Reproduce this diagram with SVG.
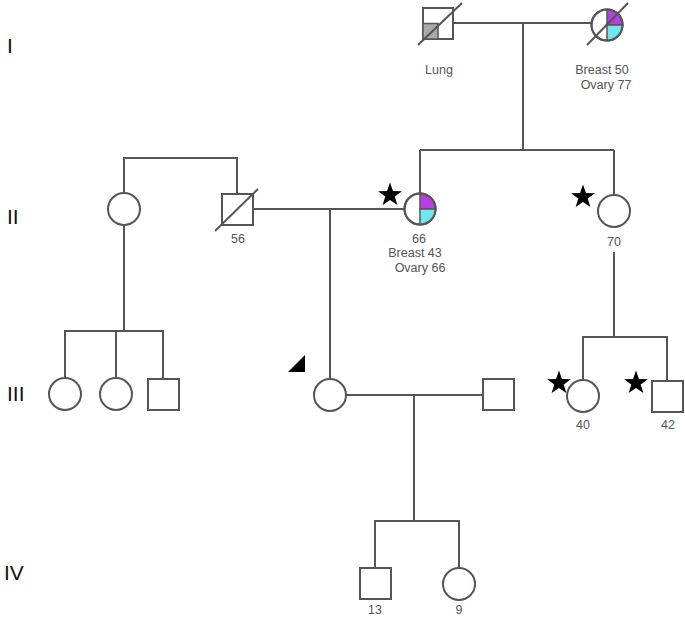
<svg xmlns="http://www.w3.org/2000/svg" width="685" height="617" viewBox="0 0 685 617">
<style>
.ln{stroke:#555;stroke-width:2;fill:none}
.sh{stroke:#555;stroke-width:2;fill:#fff}
.lbl{font-family:"Liberation Sans",Arial,sans-serif;font-size:12.5px;fill:#555;text-anchor:middle}
.gen{font-family:"Liberation Sans",Arial,sans-serif;font-size:21px;fill:#111}
.pur{fill:#b83ce8;stroke:#555;stroke-width:1.5}
.cya{fill:#72e6f0;stroke:#555;stroke-width:1.5}
</style>
<defs>
<path id="star" d="M0,-12.5 L2.94,-4.04 L11.89,-3.86 L4.75,1.54 L7.35,10.11 L0,5 L-7.35,10.11 L-4.75,1.54 L-11.89,-3.86 L-2.94,-4.04 Z" fill="#000"/>
</defs>
<rect width="685" height="617" fill="#fff"/>
<g id="generations">
<text class="gen" x="7" y="53">I</text>
<text class="gen" x="7" y="224">II</text>
<text class="gen" x="7" y="401">III</text>
<text class="gen" x="4" y="580">IV</text>
</g>
<g id="connectors">
<path class="ln" d="M453,23 H592"/>
<path class="ln" d="M523,23 V150"/>
<path class="ln" d="M420,150 H614"/>
<path class="ln" d="M420,150 V194"/>
<path class="ln" d="M614,150 V196"/>
<path class="ln" d="M124,193 V158 H237 V193"/>
<path class="ln" d="M253,209 H405"/>
<path class="ln" d="M330,209 V379"/>
<path class="ln" d="M124,225 V331"/>
<path class="ln" d="M65,378 V331 H163 V379"/>
<path class="ln" d="M116,331 V378"/>
<path class="ln" d="M614,252 V337"/>
<path class="ln" d="M583,380 V337 H667 V381"/>
<path class="ln" d="M346,395 H483"/>
<path class="ln" d="M414,395 V521"/>
<path class="ln" d="M375,568 V521 H459 V568"/>
</g>
<g id="I1">
<rect class="sh" x="423" y="8" width="30" height="31"/>
<rect x="423" y="23.5" width="15" height="15.5" fill="#aaa" stroke="#555" stroke-width="1.5"/>
<path class="ln" d="M418,45 L462,3" stroke-width="1.5"/>
<text class="lbl" x="439" y="74">Lung</text>
</g>
<g id="I2">
<circle class="sh" cx="607" cy="25" r="15.5"/>
<path class="pur" d="M607,25 L607,9.5 A15.5,15.5 0 0 1 622.5,25 Z"/>
<path class="cya" d="M607,25 L622.5,25 A15.5,15.5 0 0 1 607,40.5 Z"/>
<circle class="ln" cx="607" cy="25" r="15.5"/>
<path class="ln" d="M587,45 L628,3" stroke-width="1.5"/>
<text class="lbl" x="602" y="74">Breast 50</text>
<text class="lbl" x="606" y="89">Ovary 77</text>
</g>
<g id="II1">
<circle class="sh" cx="124" cy="209" r="16"/>
</g>
<g id="II2">
<rect class="sh" x="222" y="194" width="31" height="31"/>
<path class="ln" d="M215,231 L258,189" stroke-width="1.5"/>
<text class="lbl" x="238" y="243">56</text>
</g>
<g id="II3">
<circle class="sh" cx="420" cy="209" r="15.5"/>
<path class="pur" d="M420,209 L420,193.5 A15.5,15.5 0 0 1 435.5,209 Z"/>
<path class="cya" d="M420,209 L435.5,209 A15.5,15.5 0 0 1 420,224.5 Z"/>
<circle class="ln" cx="420" cy="209" r="15.5"/>
<use href="#star" x="390" y="195"/>
<text class="lbl" x="419" y="243">66</text>
<text class="lbl" x="415" y="257">Breast 43</text>
<text class="lbl" x="420" y="272">Ovary 66</text>
</g>
<g id="II4">
<circle class="sh" cx="614" cy="211" r="16"/>
<use href="#star" x="583" y="197"/>
<text class="lbl" x="614" y="246">70</text>
</g>
<g id="III1"><circle class="sh" cx="65" cy="394" r="16"/></g>
<g id="III2"><circle class="sh" cx="116" cy="394" r="16"/></g>
<g id="III3"><rect class="sh" x="148" y="379" width="31" height="31"/></g>
<g id="III4">
<circle class="sh" cx="330" cy="395" r="16"/>
<polygon points="288,372 305,372 305,355" fill="#000"/>
</g>
<g id="III5"><rect class="sh" x="483" y="379" width="31" height="31"/></g>
<g id="III6">
<circle class="sh" cx="583" cy="396" r="16"/>
<use href="#star" x="559" y="383"/>
<text class="lbl" x="583" y="429">40</text>
</g>
<g id="III7">
<rect class="sh" x="652" y="381" width="31" height="31"/>
<use href="#star" x="636" y="383"/>
<text class="lbl" x="668" y="429">42</text>
</g>
<g id="IV1">
<rect class="sh" x="360" y="568" width="31" height="31"/>
<text class="lbl" x="375" y="614">13</text>
</g>
<g id="IV2">
<circle class="sh" cx="459" cy="584" r="16"/>
<text class="lbl" x="459" y="614">9</text>
</g>
</svg>
